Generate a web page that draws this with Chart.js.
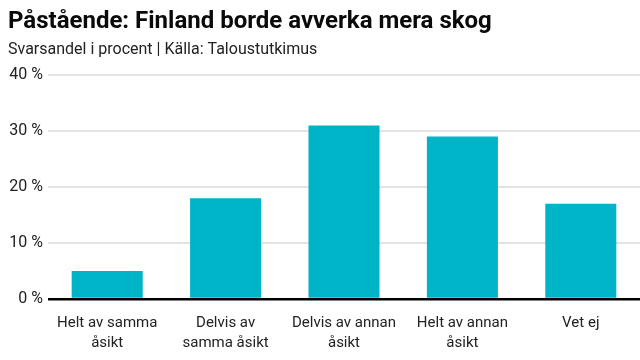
<!DOCTYPE html>
<html>
<head>
<meta charset="utf-8">
<script src="https://cdn.jsdelivr.net/npm/chart.js@4.4.0/dist/chart.umd.min.js"></script>
<style>
  html, body { margin: 0; padding: 0; background: #ffffff; }
  #wrap { width: 640px; height: 360px; }
</style>
</head>
<body>
<div id="wrap"><canvas id="chart" width="640" height="360"></canvas></div>
<script>
// Data
var categories = [
  ["Helt av samma", "åsikt"],
  ["Delvis av", "samma åsikt"],
  ["Delvis av annan", "åsikt"],
  ["Helt av annan", "åsikt"],
  "Vet ej"
];
var shares = [5, 18, 31, 29, 17];
var yTicks = [0, 10, 20, 30, 40];

var FONT = "'Roboto', sans-serif";

var ctx = document.getElementById("chart").getContext("2d");
var chart = new Chart(ctx, {
  type: "bar",
  data: {
    labels: categories,
    datasets: [{
      label: "Svarsandel",
      data: shares,
      backgroundColor: "#00b4c8",
      borderWidth: 0,
      barPercentage: 0.6,
      categoryPercentage: 1.0
    }]
  },
  options: {
    responsive: false,
    animation: false,
    layout: { padding: { left: 8, right: 0, top: 0, bottom: 0 } },
    plugins: {
      legend: { display: false },
      tooltip: { enabled: false },
      title: {
        display: true,
        text: "Påstående: Finland borde avverka mera skog",
        align: "start",
        color: "#0a0a0a",
        font: { family: FONT, size: 24, weight: "bold" },
        padding: { top: 8, bottom: 4 }
      },
      subtitle: {
        display: true,
        text: "Svarsandel i procent | Källa: Taloustutkimus",
        align: "start",
        color: "#222222",
        font: { family: FONT, size: 16 },
        padding: { top: 0, bottom: 15 }
      }
    },
    scales: {
      x: {
        afterFit: function (scale) { scale.height = 61; },   // room for two label lines
        grid: { display: false, drawTicks: false },
        border: { display: false },
        ticks: {
          color: "#222222",
          font: { family: FONT, size: 15, lineHeight: 1.33 },
          padding: 14,
          maxRotation: 0,
          autoSkip: false
        }
      },
      y: {
        min: 0,
        max: 40,
        afterFit: function (scale) { scale.width = 40; },   // fixed gutter for the % labels
        afterBuildTicks: function (scale) {
          scale.ticks = yTicks.map(function (v) { return { value: v }; });
        },
        border: { display: false },
        grid: {
          drawTicks: false,
          color: function (c) { return c.tick && c.tick.value === 0 ? "#000000" : "#e3e3e3"; },
          lineWidth: function (c) { return c.tick && c.tick.value === 0 ? 2.5 : 2; }
        },
        ticks: {
          color: "#222222",
          font: { family: FONT, size: 16 },
          padding: 5,
          callback: function (v) { return v + " %"; }
        }
      }
    }
  }
});
</script>
</body>
</html>
